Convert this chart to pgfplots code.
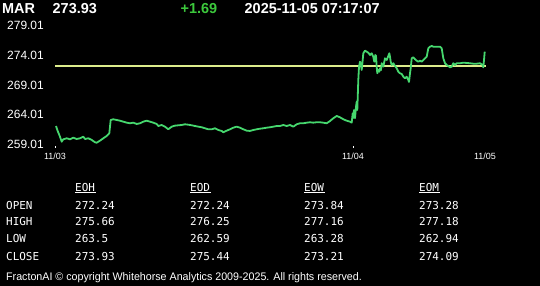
\documentclass[border=0pt]{standalone}
\usepackage{pgfplots}
\pgfplotsset{compat=1.18}
\usepackage{fontspec}
\setmainfont{Liberation Sans}
\newfontfamily\monofont{DejaVu Sans Mono}
\definecolor{linegreen}{RGB}{70,215,110}
\definecolor{prevyel}{RGB}{220,236,140}
\definecolor{upgreen}{RGB}{60,200,60}
\begin{document}
\begin{tikzpicture}
\fill[black] (0,0) rectangle (540bp,286bp);
\begin{axis}[
  at={(55bp,138bp)}, anchor=south west,
  scale only axis, width=435bp, height=128bp,
  xmin=0, xmax=435, ymin=258.42, ymax=279.90,
  axis line style={draw=none},
  /pgf/number format/assume math mode=true,
  ytick={259.01,264.01,269.01,274.01,279.01},
  yticklabels={259.01,264.01,269.01,274.01,279.01},
  ytick style={draw=none},
  yticklabel style={font=\fontsize{12}{14}\selectfont, text=white, inner sep=0pt, anchor=east, xshift=-11bp},
  xtick={0,298},
  xticklabels={11/03,11/04},
  extra x ticks={430},
  extra x tick labels={11/05},
  extra x tick style={xtick style={draw=none}},
  xtick pos=bottom,
  tick align=inside,
  major tick length=2bp,
  xtick style={white, line width=1bp},
  xticklabel style={font=\fontsize{9}{11}\selectfont, text=white, inner sep=0pt, anchor=base, yshift=-12bp},
  clip=false,
]
\addplot[prevyel, line width=1.8bp] coordinates {(0,272.24) (430.7,272.24)};
\addplot[linegreen, line width=1.8bp, line join=round] coordinates {
(1,262.11) (2.3,261.44) (5,260.32) (6.7,259.48) (8.3,259.88) (11.7,260.05) (15,259.88) (18.3,260.15)
(21.7,259.93) (25,260.05) (28.3,260.32) (30,259.93) (33.3,260.05) (36.7,259.77) (40,259.38) (41.7,259.31)
(45,259.65) (48.3,260.05) (51.7,260.44) (54.3,260.89) (55.7,263.12) (58.3,263.24) (61.7,263.12) (65,263.00)
(68.3,262.84) (71.7,262.67) (75,262.57) (78.3,262.67) (81.7,262.45) (85,262.57) (88.3,262.84) (91.7,263.00)
(95,262.84) (98.3,262.67) (101.7,262.45) (103.3,262.11) (106.7,262.28) (110,262.00) (113.3,261.56) (116.7,262.00)
(120,262.17) (123.3,262.23) (126.7,262.28) (130,262.40) (133.3,262.33) (136.7,262.23) (140,262.11) (143.3,262.00)
(146.7,261.90) (150,261.73) (153.3,261.56) (156.7,261.56) (160,261.73) (163.3,261.44) (166.7,261.28) (168.3,261.06)
(171.7,261.33) (175,261.56) (178.3,261.83) (181.7,262.00) (185,261.83) (188.3,261.56) (191.7,261.33) (195,261.28)
(198.3,261.44) (201.7,261.56) (205,261.66) (208.3,261.73) (211.7,261.83) (215,261.90) (218.3,262.00) (221.7,262.11)
(225,262.11) (228.3,262.28) (231.7,262.11) (235,262.28) (238.3,262.00) (241.7,262.40) (245,262.57) (248.3,262.57)
(251.7,262.67) (255,262.74) (258.3,262.67) (261.7,262.74) (265,262.74) (268.3,262.67) (271.7,262.57) (275,262.95)
(278.3,263.41) (281.7,263.79) (285,263.57) (288.3,263.24) (291.7,263.00) (295,262.84) (296.7,262.67) (297.7,264.25)
(298.3,263.46) (299,264.80) (300,263.41) (301,265.35) (301.7,266.19) (302.3,264.80) (303.3,269.83) (304,272.07)
(305,272.90) (305.7,272.64) (306.7,271.51) (307.7,273.19) (308.3,274.31) (310,274.75) (311.7,274.58) (313.3,274.41)
(315,274.03) (316.7,274.31) (318.3,273.74) (319.3,272.90) (320.3,274.03) (321,273.86) (321.7,272.07) (322.3,270.96)
(323.3,271.51) (324.3,271.23) (325,271.80) (326,271.51) (326.7,272.64) (328.3,272.07) (330,273.47) (331.7,273.19)
(333.3,273.86) (334.3,274.31) (335,273.74) (335.7,272.90) (336.7,272.35) (338.3,272.64) (340,272.18) (341.7,271.80)
(343.3,271.23) (345,270.96) (346.7,270.84) (348.3,270.39) (350,270.12) (351.7,270.39) (353.3,269.83) (354,269.50)
(355,270.96) (355.7,271.80) (356.7,273.47) (358.3,273.64) (360,273.31) (361.7,273.07) (363.3,272.90) (365,273.07)
(366.7,272.90) (368.3,273.19) (370,273.47) (371.7,273.74) (373.3,275.15) (375,275.42) (376.7,275.54) (378.3,275.42)
(381.7,275.42) (385,275.42) (386.7,275.15) (388.3,273.47) (390,272.64) (391.7,272.35) (393.3,272.18) (395,271.96)
(396.7,272.07) (398.3,272.64) (400,272.35) (401.7,272.64) (403.3,272.64) (405,272.64) (408.3,272.74) (411.7,272.69)
(415,272.64) (418.3,272.57) (421.7,272.57) (425,272.64) (427.7,272.35) (428.3,271.96) (429,273.19) (429.7,274.58)
};
\end{axis}
% header
\begin{scope}[every node/.style={inner sep=0pt, anchor=base west, font=\fontsize{14.5}{17}\selectfont\bfseries}]
\node[text=white] at (2bp,272bp) {MAR};
\node[text=white] at (52.5bp,272bp) {273.93};
\node[text=upgreen] at (180.5bp,272bp) {+1.69};
\node[text=white] at (244.5bp,272bp) {2025-11-05 07:17:07};
\end{scope}
% table
\begin{scope}[every node/.style={inner sep=0pt, anchor=base west, text=white, font=\monofont\fontsize{11}{13}\selectfont}]
\node at (75bp,94.5bp) {EOH};
\node at (190bp,94.5bp) {EOD};
\node at (304bp,94.5bp) {EOW};
\node at (419bp,94.5bp) {EOM};
\foreach \xx in {75,190,304,419} {\draw[white, line width=0.8bp] (\xx bp,93.3bp) -- ++(20.5bp,0);}
\node at (6bp,76.7bp) {OPEN};
\node at (6bp,60.3bp) {HIGH};
\node at (6bp,43.3bp) {LOW};
\node at (6bp,26bp) {CLOSE};
\node at (75bp,76.7bp) {272.24};
\node at (75bp,60.3bp) {275.66};
\node at (75bp,43.3bp) {263.5};
\node at (75bp,26bp) {273.93};
\node at (190bp,76.7bp) {272.24};
\node at (190bp,60.3bp) {276.25};
\node at (190bp,43.3bp) {262.59};
\node at (190bp,26bp) {275.44};
\node at (304bp,76.7bp) {273.84};
\node at (304bp,60.3bp) {277.16};
\node at (304bp,43.3bp) {263.28};
\node at (304bp,26bp) {273.21};
\node at (419bp,76.7bp) {273.28};
\node at (419bp,60.3bp) {277.18};
\node at (419bp,43.3bp) {262.94};
\node at (419bp,26bp) {274.09};
\end{scope}
\node[inner sep=0pt, anchor=base west, text=white, font=\fontsize{11}{13}\selectfont] at (6bp,6bp) {\scalebox{0.975}[1]{FractonAI \textcopyright\ copyright Whitehorse Analytics 2009-2025. All rights reserved.}};
\end{tikzpicture}
\end{document}
